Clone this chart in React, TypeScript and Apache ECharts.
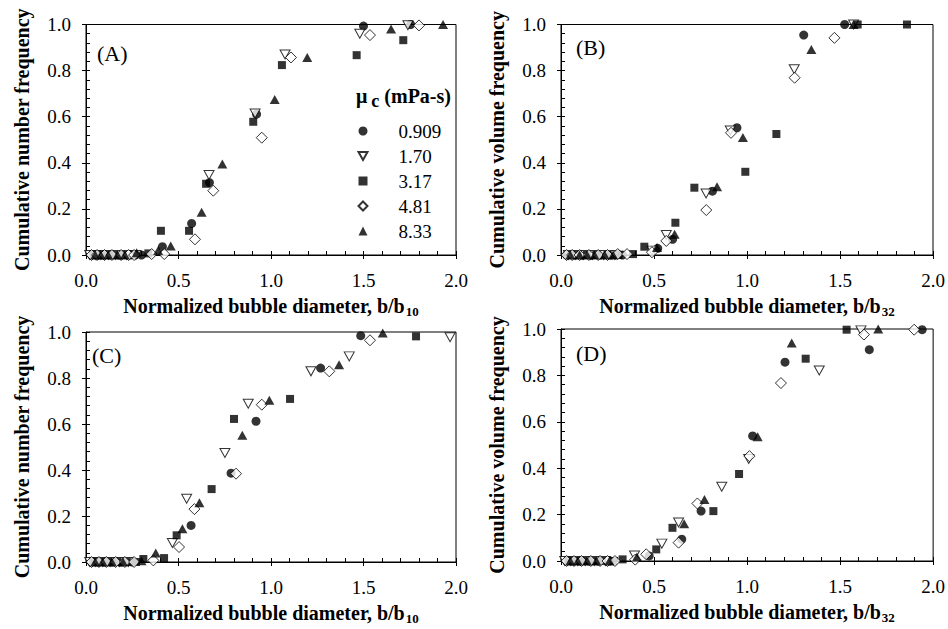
import React, { useEffect, useRef } from "react";
import * as echarts from "echarts";

const seriesNames = ["0.909", "1.70", "3.17", "4.81", "8.33"];
const panelLabels = ["(A)", "(B)", "(C)", "(D)"];
const yTitles = [
  "Cumulative number frequency",
  "Cumulative volume frequency",
  "Cumulative number frequency",
  "Cumulative volume frequency",
];
const xSubscripts = ["10", "32", "10", "32"];
const xTicks = { min: 0, max: 2, major: 0.5, minor: 0.1 };
const yTicks = { min: 0, max: 1, major: 0.2, minor: 0.04 };

// Panel A: cumulative number frequency vs b/b10
const A_0909 = [[0.03,0],[0.06,0],[0.09,0],[0.13,0],[0.18,0],[0.24,0],[0.30,0],[0.413,0.036],[0.571,0.137],[0.667,0.314],[0.922,0.611],[1.50,0.993],[1.755,1.0]];
const A_170 = [[0.02,0],[0.05,0],[0.08,0],[0.12,0],[0.16,0],[0.22,0],[0.27,0],[0.665,0.347],[0.914,0.614],[1.076,0.87],[1.48,0.96],[1.74,0.997]];
const A_317 = [[0.04,0],[0.07,0],[0.11,0],[0.15,0],[0.20,0],[0.26,0],[0.337,0.007],[0.405,0.105],[0.557,0.105],[0.649,0.309],[0.904,0.578],[1.059,0.824],[1.463,0.867],[1.715,0.932]];
const A_481 = [[0.03,0],[0.06,0],[0.10,0],[0.14,0],[0.19,0],[0.23,0],[0.26,0],[0.355,0.004],[0.423,0.004],[0.589,0.068],[0.688,0.279],[0.95,0.509],[1.108,0.857],[1.535,0.954],[1.80,0.996]];
const A_833 = [[0.05,0],[0.08,0],[0.12,0],[0.17,0],[0.21,0],[0.274,0.01],[0.39,0.019],[0.458,0.039],[0.625,0.185],[0.737,0.395],[1.02,0.675],[1.196,0.857],[1.649,0.981],[1.93,1.0]];

// Panel B: cumulative volume frequency vs b/b32
const B_0909 = [[0.03,0],[0.07,0],[0.11,0],[0.16,0],[0.21,0],[0.27,0],[0.33,0],[0.52,0.029],[0.60,0.068],[0.814,0.277],[0.946,0.552],[1.305,0.954],[1.525,1.0]];
const B_170 = [[0.04,0],[0.08,0],[0.12,0],[0.17,0],[0.23,0],[0.29,0],[0.49,0.019],[0.566,0.087],[0.78,0.267],[0.91,0.54],[1.254,0.806],[1.573,1.0]];
const B_317 = [[0.05,0],[0.09,0],[0.14,0],[0.19,0],[0.25,0],[0.31,0],[0.387,0.004],[0.448,0.036],[0.615,0.14],[0.717,0.292],[0.991,0.361],[1.158,0.525],[1.595,1.0],[1.86,1.0]];
const B_481 = [[0.03,0],[0.06,0],[0.10,0],[0.15,0],[0.20,0],[0.25,0],[0.305,0.004],[0.355,0.004],[0.489,0.012],[0.566,0.061],[0.781,0.195],[0.914,0.53],[1.256,0.769],[1.47,0.942]];
const B_833 = [[0.05,0],[0.10,0],[0.14,0],[0.18,0],[0.235,0],[0.28,0],[0.516,0.032],[0.611,0.09],[0.839,0.296],[0.978,0.51],[1.346,0.892],[1.573,1.0]];

// Panel C: cumulative number frequency vs b/b10
const C_0909 = [[0.03,0],[0.06,0],[0.10,0],[0.14,0],[0.19,0],[0.25,0],[0.568,0.159],[0.784,0.386],[0.919,0.612],[1.268,0.843],[1.485,0.984]];
const C_170 = [[0.02,0],[0.05,0],[0.09,0],[0.13,0],[0.18,0],[0.23,0],[0.467,0.083],[0.544,0.275],[0.751,0.474],[0.877,0.688],[1.216,0.829],[1.423,0.894],[1.968,0.977]];
const C_317 = [[0.04,0],[0.08,0],[0.12,0],[0.17,0],[0.22,0],[0.27,0],[0.31,0.013],[0.422,0.017],[0.49,0.116],[0.679,0.317],[0.80,0.622],[1.103,0.709],[1.784,0.981]];
const C_481 = [[0.03,0],[0.07,0],[0.11,0],[0.16,0],[0.21,0],[0.26,0],[0.364,0.007],[0.503,0.065],[0.586,0.23],[0.811,0.384],[0.95,0.684],[1.315,0.829],[1.535,0.964]];
const C_833 = [[0.05,0],[0.09,0],[0.14,0],[0.20,0],[0.30,0.005],[0.377,0.039],[0.521,0.145],[0.613,0.258],[0.845,0.551],[0.991,0.703],[1.368,0.858],[1.604,0.996]];

// Panel D: cumulative volume frequency vs b/b32
const D_0909 = [[0.03,0],[0.06,0],[0.10,0],[0.15,0],[0.20,0],[0.26,0],[0.474,0.022],[0.649,0.094],[0.753,0.215],[1.03,0.539],[1.204,0.857],[1.657,0.911],[1.941,0.997]];
const D_170 = [[0.02,0],[0.05,0],[0.09,0],[0.13,0],[0.18,0],[0.24,0],[0.395,0.024],[0.542,0.075],[0.632,0.166],[0.864,0.32],[1.009,0.44],[1.388,0.821],[1.612,0.994]];
const D_317 = [[0.04,0],[0.08,0],[0.12,0],[0.17,0],[0.22,0],[0.28,0],[0.331,0.007],[0.512,0.05],[0.599,0.143],[0.819,0.215],[0.957,0.375],[1.315,0.872],[1.535,0.997]];
const D_481 = [[0.03,0],[0.07,0],[0.11,0],[0.16,0],[0.21,0],[0.25,0],[0.29,0],[0.399,0.006],[0.458,0.029],[0.632,0.079],[0.733,0.248],[1.013,0.452],[1.182,0.767],[1.628,0.976],[1.898,0.997]];
const D_833 = [[0.05,0],[0.09,0],[0.14,0],[0.19,0],[0.26,0],[0.408,0.017],[0.662,0.161],[0.771,0.265],[1.057,0.536],[1.24,0.94],[1.705,1.0]];

const panelData = [
  [A_0909, A_170, A_317, A_481, A_833],
  [B_0909, B_170, B_317, B_481, B_833],
  [C_0909, C_170, C_317, C_481, C_833],
  [D_0909, D_170, D_317, D_481, D_833],
];

const FONT = "Liberation Serif";

const markerStyles = [
  { symbol: "circle", symbolSize: 9, itemStyle: { color: "#000" } },
  { symbol: "path://M0,0L10,0L5,9Z", symbolSize: [10, 9], itemStyle: { color: "#fff", borderColor: "#000", borderWidth: 1 } },
  { symbol: "rect", symbolSize: 8, itemStyle: { color: "#000" } },
  { symbol: "diamond", symbolSize: [11, 11], itemStyle: { color: "#fff", borderColor: "#000", borderWidth: 1 } },
  { symbol: "triangle", symbolSize: [10, 9], itemStyle: { color: "#000" } },
];

const grids = [
  { left: 86, top: 24.5, width: 370, height: 230.5 },
  { left: 561, top: 24.5, width: 372, height: 230.5 },
  { left: 86, top: 332, width: 370, height: 230 },
  { left: 561, top: 329, width: 373, height: 232 },
];

const labelPos = [
  [97, 53],
  [576, 47],
  [92, 355],
  [576, 353],
];

export default function App() {
  const ref = useRef<HTMLDivElement>(null);
  useEffect(() => {
    if (!ref.current) return;
    const chart = echarts.init(ref.current, undefined, { renderer: "svg" });
    const xAxis: any[] = [];
    const yAxis: any[] = [];
    const series: any[] = [];
    grids.forEach((g, i) => {
      xAxis.push({
        type: "value",
        gridIndex: i,
        position: "bottom",
        min: xTicks.min,
        max: xTicks.max,
        interval: xTicks.major,
        axisLine: { show: true, onZero: false, lineStyle: { color: "#000", width: 1 } },
        axisTick: { show: true, inside: false, length: 4, lineStyle: { color: "#000" } },
        axisLabel: {
          show: true,
          margin: 16,
          color: "#000",
          fontFamily: FONT,
          fontSize: 19,
          formatter: (v: number) => v.toFixed(1),
        },
        splitLine: { show: false },
        name: `{t|Normalized bubble diameter, b/b}{s|${xSubscripts[i]}}`,
        nameLocation: "middle",
        nameGap: 38,
        nameTextStyle: {
          color: "#000",
          fontFamily: FONT,
          fontWeight: "bold",
          fontSize: 20,
          rich: {
            t: { fontFamily: FONT, fontWeight: "bold", fontSize: 20, color: "#000" },
            s: { fontFamily: FONT, fontWeight: "bold", fontSize: 13, color: "#000", padding: [12, 0, 0, 1] },
          },
        },
      });
      xAxis.push({
        type: "value",
        gridIndex: i,
        position: "bottom",
        min: xTicks.min,
        max: xTicks.max,
        interval: xTicks.minor,
        axisLine: { show: false, onZero: false },
        axisTick: { show: true, inside: true, length: 4, lineStyle: { color: "#000" } },
        axisLabel: { show: false },
        splitLine: { show: false },
      });
      yAxis.push({
        type: "value",
        gridIndex: i,
        position: "left",
        min: yTicks.min,
        max: yTicks.max,
        interval: yTicks.major,
        axisLine: { show: true, onZero: false, lineStyle: { color: "#000", width: 1 } },
        axisTick: { show: true, inside: false, length: 4, lineStyle: { color: "#000" } },
        axisLabel: {
          show: true,
          margin: 15,
          color: "#000",
          fontFamily: FONT,
          fontSize: 19,
          formatter: (v: number) => v.toFixed(1),
        },
        splitLine: { show: false },
        name: yTitles[i],
        nameLocation: "middle",
        nameGap: 54,
        nameTextStyle: { color: "#000", fontFamily: FONT, fontWeight: "bold", fontSize: 20 },
      });
      yAxis.push({
        type: "value",
        gridIndex: i,
        position: "left",
        min: yTicks.min,
        max: yTicks.max,
        interval: yTicks.minor,
        axisLine: { show: false, onZero: false },
        axisTick: { show: true, inside: true, length: 4, lineStyle: { color: "#000" } },
        axisLabel: { show: false },
        splitLine: { show: false },
      });
      panelData[i].forEach((data, k) => {
        series.push({
          type: "scatter",
          name: seriesNames[k],
          xAxisIndex: i * 2,
          yAxisIndex: i * 2,
          data,
          clip: false,
          symbol: markerStyles[k].symbol,
          symbolSize: markerStyles[k].symbolSize,
          itemStyle: markerStyles[k].itemStyle,
          emphasis: { disabled: true },
          z: 3,
        });
      });
    });

    const graphic: any[] = panelLabels.map((t, i) => ({
      type: "text",
      x: labelPos[i][0],
      y: labelPos[i][1],
      style: {
        text: t,
        fontFamily: FONT,
        fontSize: 22,
        fill: "#000",
        verticalAlign: "middle",
        align: "left",
      },
    }));
    graphic.push({
      type: "text",
      x: 356,
      y: 96,
      style: {
        text: "{a|μ}{s|c}{a| (mPa-s)}",
        verticalAlign: "middle",
        align: "left",
        fill: "#000",
        rich: {
          a: { fontFamily: FONT, fontWeight: "bold", fontSize: 20, fill: "#000" },
          s: { fontFamily: FONT, fontWeight: "bold", fontSize: 18, fill: "#000", padding: [10, 0, 0, 4] },
        },
      },
    });

    chart.setOption({
      animation: false,
      backgroundColor: "#fff",
      grid: grids.map((g) => ({
        ...g,
        show: true,
        borderColor: "#000",
        borderWidth: 1,
        backgroundColor: "transparent",
      })),
      xAxis,
      yAxis,
      series,
      legend: {
        show: true,
        orient: "vertical",
        left: 352.5,
        top: 116.5,
        itemWidth: 9,
        itemHeight: 9,
        itemGap: 6,
        selectedMode: false,
        data: seriesNames,
        textStyle: {
          fontFamily: FONT,
          fontSize: 19,
          color: "#000",
          padding: [0, 0, 0, 26],
        },
      },
      graphic,
    });
    return () => chart.dispose();
  }, []);
  return (
    <div
      ref={ref}
      style={{ position: "fixed", left: 0, top: 0, width: 948, height: 629, background: "#fff" }}
    />
  );
}
